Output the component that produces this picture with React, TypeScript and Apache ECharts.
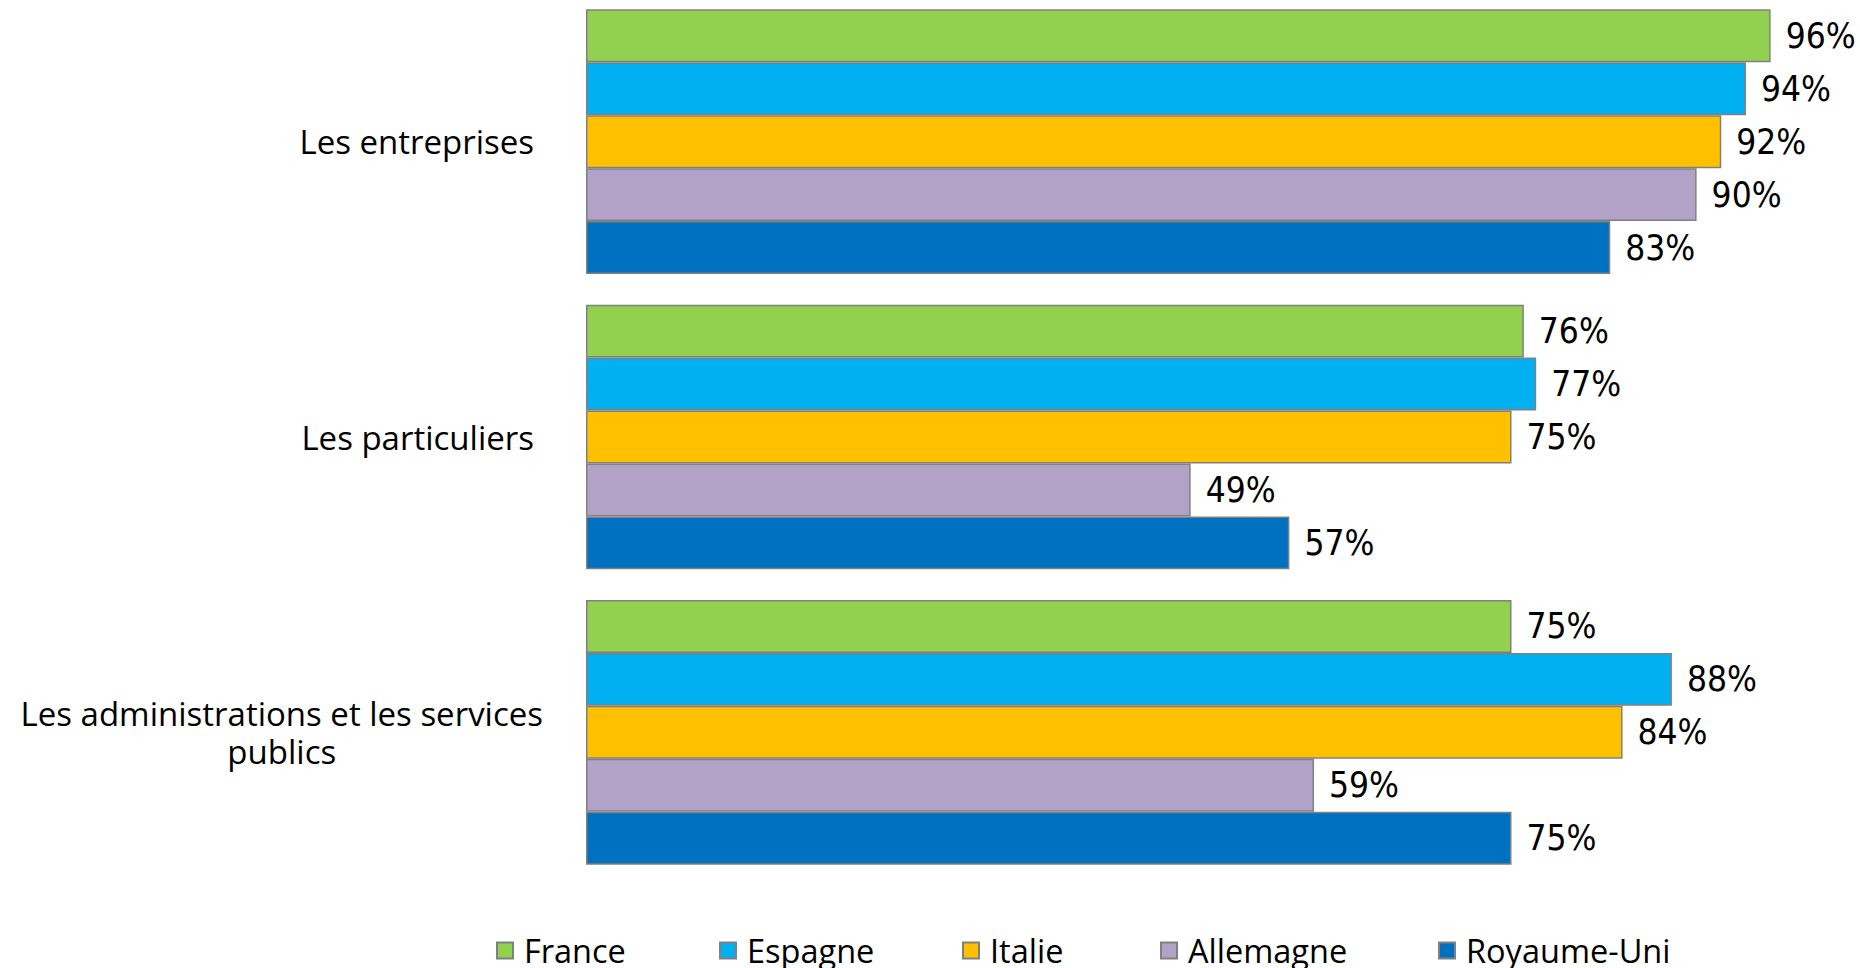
import React, { useEffect, useRef } from "react";
import * as echarts from "echarts";

const categories = [
  "Les entreprises",
  "Les particuliers",
  "Les administrations et les services\npublics",
];
const seriesNames = ["France", "Espagne", "Italie", "Allemagne", "Royaume-Uni"];
const france = [96, 76, 75];
const espagne = [94, 77, 88];
const italie = [92, 75, 84];
const allemagne = [90, 49, 59];
const royaumeUni = [83, 57, 75];
const seriesColors = ["#92D050", "#00B0F0", "#FFC000", "#B3A2C7", "#0070C0"];
const legendLeft = [496, 719, 962, 1160, 1438];

export default function App() {
  const ref = useRef<HTMLDivElement>(null);
  useEffect(() => {
    if (!ref.current) return;
    const chart = echarts.init(ref.current, undefined, { renderer: "svg" });
    const values = [france, espagne, italie, allemagne, royaumeUni];
    const labelFont = "'DejaVu Sans Condensed', 'Liberation Sans Narrow', 'Open Sans', sans-serif";
    const textFont = "'Open Sans', 'Noto Sans', sans-serif";
    chart.setOption({
      animation: false,
      backgroundColor: "#ffffff",
      grid: { left: 586, right: 40, top: 0, bottom: 88, containLabel: false },
      xAxis: {
        type: "value",
        min: 0,
        max: 100,
        show: false,
      },
      yAxis: {
        type: "category",
        data: categories,
        inverse: true,
        axisLine: { show: false },
        axisTick: { show: false },
        splitLine: { show: false },
        axisLabel: {
          margin: 43,
          align: "right",
          color: "#000",
          fontFamily: textFont,
          fontSize: 33,
          lineHeight: 38,
          formatter: (v: string) => {
            const lines = v.split("\n");
            if (lines.length === 1) return `{s|${v}}`;
            return lines.map((l) => `{c|${l}}`).join("\n");
          },
          rich: {
            c: {
              align: "center",
              color: "#000",
              fontFamily: textFont,
              fontSize: 33,
              lineHeight: 38,
            },
            s: {
              color: "#000",
              fontFamily: textFont,
              fontSize: 33,
              lineHeight: 38,
              padding: [0, 9, 0, 0],
            },
          },
        },
      },
      legend: seriesNames.map((n, i) => ({
        data: [n],
        left: legendLeft[i],
        top: 940,
        padding: 0,
        itemWidth: 16,
        itemHeight: 16,
        icon: "rect",
        selectedMode: false,
        textStyle: {
          color: "#000",
          fontFamily: textFont,
          fontSize: 32.5,
          padding: [0, 0, 0, 6],
        },
      })),
      series: seriesNames.map((n, i) => ({
        name: n,
        type: "bar",
        data: values[i],
        barGap: "0%",
        barCategoryGap: "10.4%",
        itemStyle: {
          color: seriesColors[i],
          borderColor: "#808080",
          borderWidth: 1.5,
        },
        label: {
          show: true,
          position: "right",
          distance: 15,
          formatter: "{c}%",
          color: "#000",
          fontFamily: labelFont,
          fontSize: 35,
        },
      })),
    });
    return () => chart.dispose();
  }, []);
  return (
    <div
      ref={ref}
      style={{ position: "absolute", left: 0, top: -6, width: 1860, height: 974 }}
    />
  );
}
